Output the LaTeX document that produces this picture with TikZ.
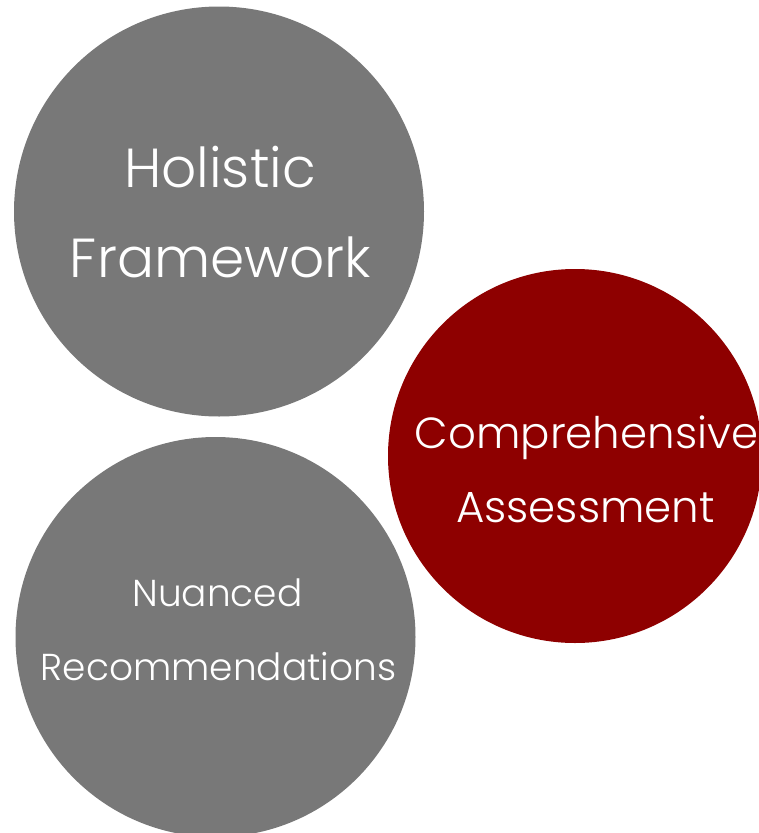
\documentclass[tikz,border=0pt]{standalone}
\usepackage{fontspec}
\setmainfont{Poppins Light}
\definecolor{cgray}{HTML}{787878}
\definecolor{cred}{HTML}{8E0000}
\begin{document}
\begin{tikzpicture}[x=1pt,y=-1pt,
  bubble/.style={circle,inner sep=0pt,minimum size=#1},
  lbl/.style={text=white,anchor=base,inner sep=0pt,font=\fontsize{#1}{#1}\selectfont}]
\useasboundingbox (0,0) rectangle (759,833);
\clip (0,0) rectangle (759,833);
\node[bubble=410pt,fill=cgray] (c1) at (219,211.5) {};
\node[bubble=374pt,fill=cred] (c2) at (575,456) {};
\node[bubble=400pt,fill=cgray] (c3) at (215.5,637) {};
\node[lbl=55] (t1a) at (220,187) {Holistic};
\node[lbl=55] (t1b) at (220.5,277) {Framework};
\node[lbl=43.5] (t2a) at (586.5,448) {Comprehensive};
\node[lbl=43.5] (t2b) at (585.5,522) {Assessment};
\node[lbl=37.5] (t3a) at (217.5,606) {Nuanced};
\node[lbl=37.5] (t3b) at (218.5,680) {Recommendations};
\end{tikzpicture}
\end{document}
